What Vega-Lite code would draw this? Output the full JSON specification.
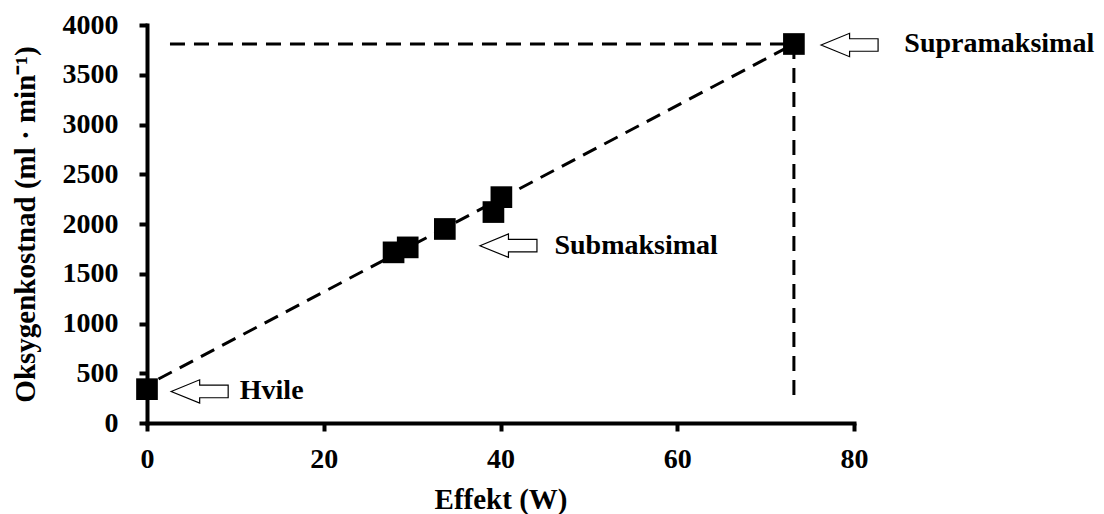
{
  "$schema": "https://vega.github.io/schema/vega-lite/v6.json",
  "width": 707,
  "height": 398,
  "autosize": {"type": "none"},
  "padding": {"left": 147, "top": 25, "right": 250, "bottom": 91},
  "background": "white",
  "config": {
    "view": {"stroke": null},
    "axis": {
      "domainColor": "black",
      "domainWidth": 4,
      "domainCap": "square",
      "tickColor": "black",
      "tickWidth": 4,
      "tickSize": 8,
      "grid": false,
      "labelFlush": false,
      "labelOverlap": false,
      "labelFont": "Liberation Serif",
      "labelFontWeight": "bold",
      "labelFontSize": 28,
      "labelColor": "black",
      "titleFont": "Liberation Serif",
      "titleFontWeight": "bold",
      "titleFontSize": 29,
      "titleColor": "black"
    }
  },
  "datasets": {
    "lines": [
      {"seg": "trend", "i": 0, "x": 1.3, "y": 442},
      {"seg": "trend", "i": 1, "x": 73.2, "y": 3809},
      {"seg": "horiz", "i": 0, "x": 2.6, "y": 3809},
      {"seg": "horiz", "i": 1, "x": 73.2, "y": 3809},
      {"seg": "vert", "i": 0, "x": 73.2, "y": 3809},
      {"seg": "vert", "i": 1, "x": 73.2, "y": 200}
    ],
    "points": [
      {"x": 0, "y": 340},
      {"x": 27.9, "y": 1715},
      {"x": 29.5, "y": 1765},
      {"x": 33.7, "y": 1950},
      {"x": 39.2, "y": 2120},
      {"x": 40.1, "y": 2270},
      {"x": 73.2, "y": 3809}
    ],
    "arrows": [
      {"x": 5.96, "y": 317},
      {"x": 40.9, "y": 1782},
      {"x": 79.5, "y": 3799}
    ],
    "labels": [
      {"x": 10.5, "y": 317, "label": "Hvile"},
      {"x": 46.1, "y": 1782, "label": "Submaksimal"},
      {"x": 85.7, "y": 3810, "label": "Supramaksimal"}
    ]
  },
  "encoding": {
    "x": {
      "field": "x",
      "type": "quantitative",
      "scale": {"domain": [0, 80], "nice": false, "zero": false},
      "axis": {
        "values": [0, 20, 40, 60, 80],
        "format": "d",
        "title": "Effekt (W)",
        "labelPadding": 14,
        "titlePadding": 12
      }
    },
    "y": {
      "field": "y",
      "type": "quantitative",
      "scale": {"domain": [0, 4000], "nice": false, "zero": false},
      "axis": {
        "values": [0, 500, 1000, 1500, 2000, 2500, 3000, 3500, 4000],
        "format": "d",
        "title": "Oksygenkostnad (ml · min⁻¹)",
        "labelPadding": 21,
        "titlePadding": 22
      }
    }
  },
  "layer": [
    {
      "data": {"name": "lines"},
      "mark": {"type": "line", "color": "black", "strokeWidth": 3, "strokeDash": [15, 9]},
      "encoding": {
        "detail": {"field": "seg"},
        "order": {"field": "i"}
      }
    },
    {
      "data": {"name": "points"},
      "mark": {"type": "square", "size": 470, "color": "black", "opacity": 1}
    },
    {
      "data": {"name": "arrows"},
      "mark": {
        "type": "point",
        "shape": "M -1 0 L 0 -0.41 L 0 -0.22 L 1 -0.22 L 1 0.22 L 0 0.22 L 0 0.41 Z",
        "size": 3249,
        "filled": true,
        "fill": "white",
        "stroke": "black",
        "strokeWidth": 1.2,
        "opacity": 1
      }
    },
    {
      "data": {"name": "labels"},
      "mark": {
        "type": "text",
        "align": "left",
        "baseline": "middle",
        "font": "Liberation Serif",
        "fontWeight": "bold",
        "fontSize": 28,
        "color": "black"
      },
      "encoding": {"text": {"field": "label"}}
    }
  ]
}
